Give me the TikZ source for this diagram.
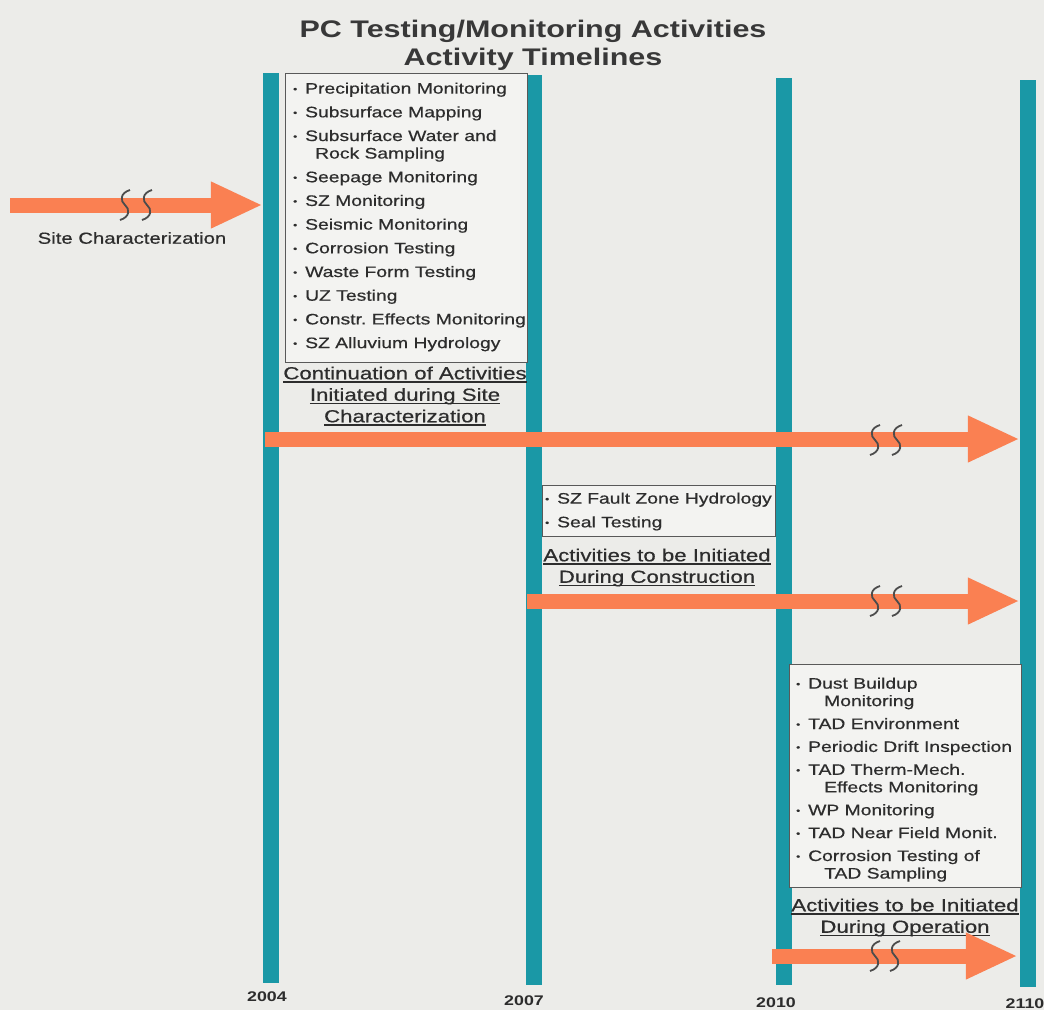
\documentclass[tikz,border=0pt]{standalone}
\usepackage{fontspec}
\setmainfont{Liberation Sans}
\newfontfamily\hv[FakeStretch=1.27,FakeBold=0.6]{Liberation Sans}
\newfontfamily\hvb[FakeStretch=1.27,UprightFont={Liberation Sans Bold}]{Liberation Sans}
\usetikzlibrary{arrows.meta}
\definecolor{teal1}{RGB}{26,152,166}
\definecolor{orng}{RGB}{250,128,82}
\definecolor{txt}{RGB}{45,45,45}
\definecolor{bg}{RGB}{236,236,233}
\definecolor{boxbg}{RGB}{243,243,241}
\newsavebox\ulbox
\newcommand\bul{\makebox[12pt][l]{\raisebox{1.5pt}{\fontsize{9}{9}\selectfont\textbullet}}}
\newcommand\ulin[1]{\sbox\ulbox{#1}\rlap{\rule[-3.5pt]{\wd\ulbox}{1.3pt}}\usebox\ulbox}
\begin{document}
\begin{tikzpicture}[x=1pt,y=-1pt,
  bar/.style={fill=teal1, inner sep=0, minimum width=16pt},
  bigarrow/.style={draw=orng, line width=15pt, -{Triangle[length=52pt,width=43pt]}},
  frame/.style={draw=black!65, line width=1.4pt, fill=boxbg, inner sep=0, anchor=north west},
  list/.style={anchor=north west, inner sep=0, align=left, text=txt, font=\hv\fontsize{15.2}{17.5}\selectfont},
  caption/.style={anchor=north, inner sep=0, align=center, text=txt, font=\hv\fontsize{17.5}{21.5}\selectfont},
  year/.style={inner sep=0, text=txt, font=\hvb\fontsize{14}{14}\selectfont},
  squigline/.style={draw=black!70, line width=1.8pt},
  squig/.pic={\draw[squigline] (5,-15) .. controls (-5,-12) and (-5,-4) .. (0,0) .. controls (5,4) and (5,12) .. (-5,15);}
]
\fill[bg] (0,0) rectangle (1044,1010);
\useasboundingbox (0,0) rectangle (1044,1010);

% title
\node[anchor=north, inner sep=0, align=center, text=black!78, font=\hvb\fontsize{24}{28}\selectfont] (title) at (533,20)
  {PC Testing/Monitoring Activities\\Activity Timelines};

% timeline bars
\node[bar, minimum height=910pt] (b2004) at (271,528) {};
\node[bar, minimum height=910pt] (b2007) at (534,530) {};
\node[bar, minimum height=907pt] (b2010) at (784,531.5) {};
\node[bar, minimum height=907pt] (b2110) at (1028,533.5) {};

% years
\node[year] (y2004) at (267,997) {2004};
\node[year] (y2007) at (524,1001) {2007};
\node[year] (y2010) at (776,1003) {2010};
\node[year] (y2110) at (1025,1004) {2110};

% boxes
\node[frame, minimum width=242pt, minimum height=289pt] (box1) at (285,73) {};
\node[frame, minimum width=233pt, minimum height=51pt] (box2) at (542,485) {};
\node[frame, minimum width=232pt, minimum height=223pt] (box3) at (789,664) {};

\node[list] (list1) at (293,82.4) {%
\bul Precipitation Monitoring\\[6.2pt]
\bul Subsurface Mapping\\[6.2pt]
\bul Subsurface Water and\\
\hspace*{22pt}Rock Sampling\\[6.2pt]
\bul Seepage Monitoring\\[6.2pt]
\bul SZ Monitoring\\[6.2pt]
\bul Seismic Monitoring\\[6.2pt]
\bul Corrosion Testing\\[6.2pt]
\bul Waste Form Testing\\[6.2pt]
\bul UZ Testing\\[6.2pt]
\bul Constr.\ Effects Monitoring\\[6.2pt]
\bul SZ Alluvium Hydrology};

\node[list] (list2) at (545,492.4) {%
\bul SZ Fault Zone Hydrology\\[6.2pt]
\bul Seal Testing};

\node[list] (list3) at (796,677.4) {%
\bul Dust Buildup\\
\hspace*{28pt}Monitoring\\[5.4pt]
\bul TAD Environment\\[5.4pt]
\bul Periodic Drift Inspection\\[5.4pt]
\bul TAD Therm-Mech.\\
\hspace*{28pt}Effects Monitoring\\[5.4pt]
\bul WP Monitoring\\[5.4pt]
\bul TAD Near Field Monit.\\[5.4pt]
\bul Corrosion Testing of\\
\hspace*{28pt}TAD Sampling};

% captions
\node[caption] (cap1) at (405,366.4) {\ulin{Continuation of Activities}\\\ulin{Initiated during Site}\\\ulin{Characterization}};
\node[caption] (cap2) at (657,548.4) {\ulin{Activities to be Initiated}\\\ulin{During Construction}};
\node[caption] (cap3) at (905,898.4) {\ulin{Activities to be Initiated}\\\ulin{During Operation}};

\node[inner sep=0, text=txt, font=\hv\fontsize{16}{16}\selectfont] (site) at (132,238) {Site Characterization};

% arrows
\coordinate (s0) at (10,205);
\coordinate (r1) at (0,439);
\coordinate (r2) at (0,601);
\coordinate (r3) at (0,956);
\draw[bigarrow] (s0) -- (b2004.west |- s0);
\draw[bigarrow] ([xshift=2pt]b2004.west |- r1) -- (b2110.west |- r1);
\draw[bigarrow] ([xshift=1pt]b2007.west |- r2) -- (b2110.west |- r2);
\draw[bigarrow] ([xshift=-4pt]b2010.west |- r3) -- ([xshift=-2pt]b2110.west |- r3);

% break marks
\pic at (125,205) {squig};
\pic at (147,205) {squig};
\pic at (875,440) {squig};
\pic at (897,440) {squig};
\pic at (875,601) {squig};
\pic at (897,601) {squig};
\pic at (875,956) {squig};
\pic at (895,956) {squig};
\end{tikzpicture}
\end{document}
